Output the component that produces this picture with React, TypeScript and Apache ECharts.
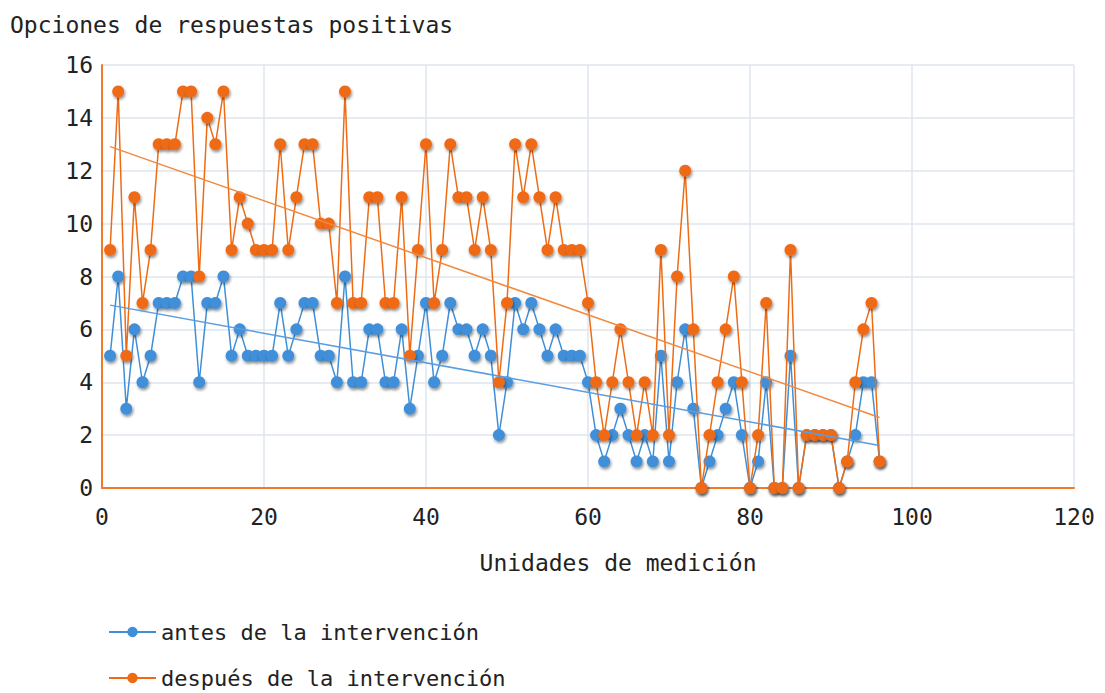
import React, { useEffect, useRef } from "react";
import * as echarts from "echarts";

const titleText = "Opciones de respuestas positivas";
const xAxisName = "Unidades de medición";
const seriesNames = ["antes de la intervención", "después de la intervención"];

const antes = [
  5, 8, 3, 6, 4, 5, 7, 7, 7, 8,
  8, 4, 7, 7, 8, 5, 6, 5, 5, 5,
  5, 7, 5, 6, 7, 7, 5, 5, 4, 8,
  4, 4, 6, 6, 4, 4, 6, 3, 5, 7,
  4, 5, 7, 6, 6, 5, 6, 5, 2, 4,
  7, 6, 7, 6, 5, 6, 5, 5, 5, 4,
  2, 1, 2, 3, 2, 1, 2, 1, 5, 1,
  4, 6, 3, 0, 1, 2, 3, 4, 2, 0,
  1, 4, 0, 0, 5, 0, 2, 2, 2, 2,
  0, 1, 2, 4, 4, 1,
];

const despues = [
  9, 15, 5, 11, 7, 9, 13, 13, 13, 15,
  15, 8, 14, 13, 15, 9, 11, 10, 9, 9,
  9, 13, 9, 11, 13, 13, 10, 10, 7, 15,
  7, 7, 11, 11, 7, 7, 11, 5, 9, 13,
  7, 9, 13, 11, 11, 9, 11, 9, 4, 7,
  13, 11, 13, 11, 9, 11, 9, 9, 9, 7,
  4, 2, 4, 6, 4, 2, 4, 2, 9, 2,
  8, 12, 6, 0, 2, 4, 6, 8, 4, 0,
  2, 7, 0, 0, 9, 0, 2, 2, 2, 2,
  0, 1, 4, 6, 7, 1,
];

const xTicks = { min: 0, max: 120, interval: 20 };
const yTicks = { min: 0, max: 16, interval: 2 };

const BLUE = "#3f8fd8";
const ORANGE = "#ee6b14";
const FONT = "DejaVu Sans Mono";

function toPoints(values: number[]) {
  return values.map((v, i) => [i + 1, v]);
}

function trend(values: number[]) {
  const n = values.length;
  const xs = values.map((_, i) => i + 1);
  const mx = xs.reduce((a, b) => a + b, 0) / n;
  const my = values.reduce((a, b) => a + b, 0) / n;
  let sxy = 0;
  let sxx = 0;
  for (let i = 0; i < n; i++) {
    sxy += (xs[i] - mx) * (values[i] - my);
    sxx += (xs[i] - mx) * (xs[i] - mx);
  }
  const slope = sxy / sxx;
  const b = my - slope * mx;
  return [
    [xs[0], b + slope * xs[0]],
    [xs[n - 1], b + slope * xs[n - 1]],
  ];
}

export default function App() {
  const ref = useRef<HTMLDivElement>(null);
  useEffect(() => {
    if (!ref.current) return;
    const chart = echarts.init(ref.current, null, { renderer: "svg" });
    const shadow = {
      shadowBlur: 3,
      shadowColor: "rgba(0,0,0,0.45)",
      shadowOffsetX: 1,
      shadowOffsetY: 2,
    };
    const legendBase = {
      orient: "vertical",
      left: 108,
      padding: 0,
      itemWidth: 47,
      itemHeight: 13,
      itemGap: 6,
      textStyle: { fontFamily: FONT, fontSize: 22, color: "#222" },
    };
    chart.setOption({
      animation: false,
      backgroundColor: "#ffffff",
      textStyle: { fontFamily: FONT },
      title: {
        text: titleText,
        left: 10,
        top: 13,
        padding: 0,
        textStyle: { fontFamily: FONT, fontSize: 23, fontWeight: "normal", color: "#222" },
      },
      grid: { left: 102, right: 31, top: 65, bottom: 205, containLabel: false },
      legend: [
        { ...legendBase, top: 621, data: [seriesNames[0]] },
        { ...legendBase, top: 667, data: [seriesNames[1]] },
      ],
      xAxis: {
        type: "value",
        min: xTicks.min,
        max: xTicks.max,
        interval: xTicks.interval,
        name: xAxisName,
        nameLocation: "middle",
        nameGap: 63,
        nameTextStyle: { fontFamily: FONT, fontSize: 23, color: "#222", padding: [0, 0, 0, 60] },
        axisLine: { show: true, lineStyle: { color: "#f07a2a", width: 2 } },
        axisTick: { show: false },
        axisLabel: { fontFamily: FONT, fontSize: 23, color: "#222", margin: 17 },
        splitLine: { show: true, lineStyle: { color: "#dfe4ee", width: 1.5 } },
      },
      yAxis: {
        type: "value",
        min: yTicks.min,
        max: yTicks.max,
        interval: yTicks.interval,
        axisLine: { show: true, lineStyle: { color: "#f07a2a", width: 2 } },
        axisTick: { show: false },
        axisLabel: { fontFamily: FONT, fontSize: 23, color: "#222", margin: 9 },
        splitLine: { show: true, lineStyle: { color: "#dfe4ee", width: 1.5 } },
      },
      series: [
        {
          name: seriesNames[0],
          type: "line",
          data: toPoints(antes),
          symbol: "circle",
          symbolSize: 12,
          color: BLUE,
          lineStyle: { color: BLUE, width: 1.5 },
          itemStyle: { color: BLUE, ...shadow },
          z: 3,
        },
        {
          name: seriesNames[1],
          type: "line",
          data: toPoints(despues),
          symbol: "circle",
          symbolSize: 12,
          color: ORANGE,
          lineStyle: { color: ORANGE, width: 1.5 },
          itemStyle: { color: ORANGE, ...shadow },
          z: 4,
        },
        {
          name: "trend-antes",
          type: "line",
          data: trend(antes),
          symbol: "none",
          lineStyle: { color: "#5a9de0", width: 1.5 },
          silent: true,
          z: 5,
        },
        {
          name: "trend-despues",
          type: "line",
          data: trend(despues),
          symbol: "none",
          lineStyle: { color: "#f08a40", width: 1.5 },
          silent: true,
          z: 5,
        },
      ],
    });
    return () => chart.dispose();
  }, []);
  return (
    <div
      ref={ref}
      style={{ position: "fixed", left: 0, top: 0, width: 1105, height: 693, background: "#fff" }}
    />
  );
}
